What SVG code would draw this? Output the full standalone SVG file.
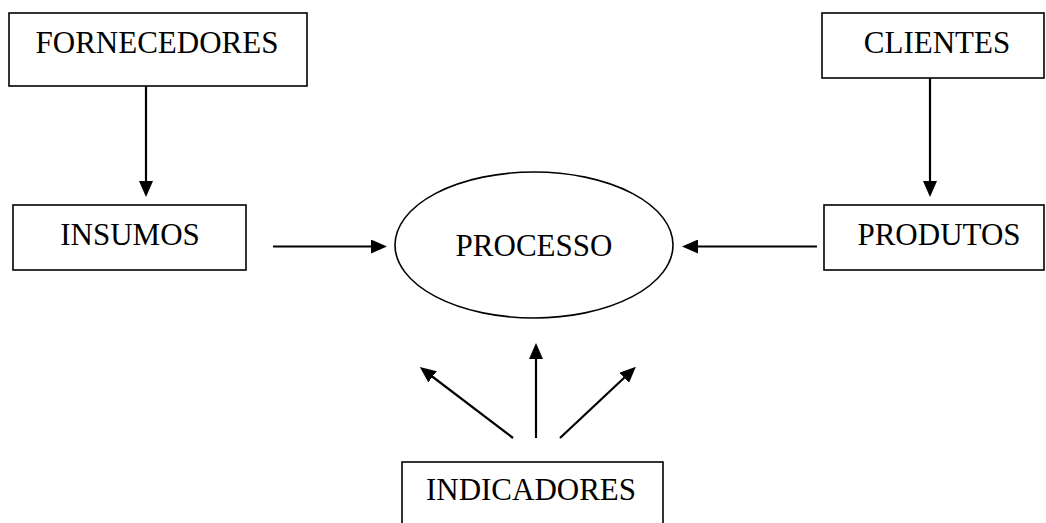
<svg xmlns="http://www.w3.org/2000/svg" width="1046" height="523" viewBox="0 0 1046 523">
<style>
.box{fill:#fff;stroke:#000;stroke-width:1.6}
.lbl{font-family:"Liberation Serif","Times New Roman",serif;font-size:31px;fill:#000;text-anchor:middle}
.arr{stroke:#000;stroke-width:2.2;fill:none;marker-end:url(#ah)}
</style>
<defs>
<marker id="ah" markerUnits="userSpaceOnUse" markerWidth="16" markerHeight="14" refX="12" refY="7" orient="auto">
<path d="M0,0 L16,7 L0,14 z" fill="#000"/>
</marker>
</defs>
<rect width="1046" height="523" fill="#fff"/>
<g id="connectors">
<line class="arr" x1="146" y1="86" x2="146" y2="193"/>
<line class="arr" x1="930" y1="78" x2="930" y2="193"/>
<line class="arr" x1="273" y1="246.5" x2="383" y2="246.5"/>
<line class="arr" x1="817" y1="246.5" x2="686" y2="246.5"/>
<line class="arr" x1="536" y1="438" x2="536" y2="347"/>
<line class="arr" x1="513" y1="438" x2="423" y2="369.5"/>
<line class="arr" x1="560" y1="438" x2="633" y2="369.5"/>
</g>
<g id="fornecedores">
<rect class="box" x="9" y="13" width="298" height="73"/>
<text class="lbl" x="157" y="53">FORNECEDORES</text>
</g>
<g id="clientes">
<rect class="box" x="822" y="13" width="222" height="65"/>
<text class="lbl" x="937" y="53">CLIENTES</text>
</g>
<g id="insumos">
<rect class="box" x="13" y="205" width="233" height="65"/>
<text class="lbl" x="130" y="245">INSUMOS</text>
</g>
<g id="produtos">
<rect class="box" x="824" y="205" width="220" height="65"/>
<text class="lbl" x="939" y="245">PRODUTOS</text>
</g>
<g id="processo">
<ellipse cx="534" cy="245" rx="139" ry="73" fill="#fff" stroke="#000" stroke-width="1.6"/>
<text class="lbl" x="534" y="256">PROCESSO</text>
</g>
<g id="indicadores">
<rect class="box" x="402" y="462" width="261" height="70"/>
<text class="lbl" x="531" y="500">INDICADORES</text>
</g>
</svg>
